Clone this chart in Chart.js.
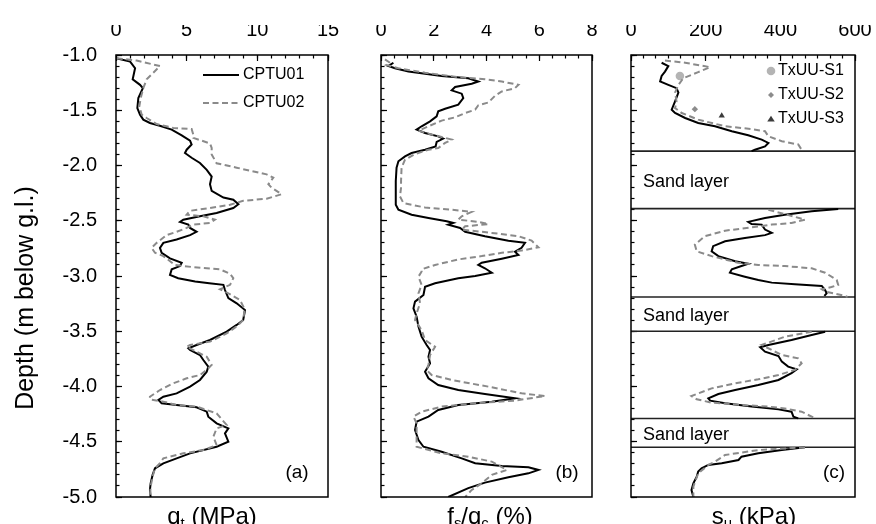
<!DOCTYPE html>
<html><head><meta charset="utf-8">
<script src="https://cdn.jsdelivr.net/npm/chart.js@4.4.0/dist/chart.umd.min.js"></script>
<style>
html,body{margin:0;padding:0;background:#fff;}
#wrap{position:relative;width:876px;height:524px;overflow:hidden;background:#fff;}
canvas{position:absolute;left:0;top:0;}
</style></head><body>
<div id="wrap">
<canvas id="ca" width="876" height="524"></canvas>
<canvas id="cb" width="876" height="524"></canvas>
<canvas id="cc" width="876" height="524"></canvas>
</div>
<script>
// ---------- DATA ----------
// Panel (a): corrected cone resistance qt (MPa) vs depth (m)
const qtDepth01 = [-1.03,-1.06,-1.12,-1.22,-1.27,-1.30,-1.39,-1.48,-1.54,-1.585,-1.615,-1.64,-1.675,-1.727,-1.775,-1.81,-1.857,-1.887,-1.93,-1.977,-2.04,-2.10,-2.17,-2.23,-2.29,-2.31,-2.35,-2.385,-2.43,-2.46,-2.49,-2.51,-2.535,-2.565,-2.60,-2.63,-2.67,-2.70,-2.745,-2.79,-2.84,-2.88,-2.91,-2.94,-2.99,-3.02,-3.05,-3.066,-3.08,-3.127,-3.20,-3.247,-3.308,-3.398,-3.443,-3.504,-3.579,-3.624,-3.654,-3.67,-3.715,-3.76,-3.82,-3.866,-3.941,-4.001,-4.062,-4.092,-4.122,-4.152,-4.167,-4.188,-4.228,-4.273,-4.333,-4.379,-4.424,-4.50,-4.545,-4.605,-4.65,-4.695,-4.74,-4.80,-4.876,-4.936,-5.0];
const qt01 = [0.0,1.0,1.35,1.18,1.7,1.9,1.58,1.51,1.7,1.93,2.4,3.1,3.94,4.65,5.24,5.35,5.0,4.88,5.35,5.94,6.42,6.77,6.65,6.77,7.6,8.3,8.66,8.3,7.12,5.94,4.76,4.53,5.12,5.24,5.7,5.24,4.29,3.35,3.11,3.23,3.82,4.65,4.53,3.94,3.82,4.4,5.6,6.6,7.6,7.71,7.95,8.54,9.13,9.0,8.54,7.83,6.65,5.7,5.12,5.24,5.94,6.18,6.53,6.42,5.94,5.24,4.29,3.35,3.0,3.23,4.29,5.7,6.42,6.53,7.12,7.95,7.71,7.95,7.12,5.24,4.29,3.35,2.76,2.59,2.45,2.4,2.45];
const qtDepth02 = [-1.03,-1.05,-1.10,-1.16,-1.22,-1.30,-1.39,-1.465,-1.54,-1.57,-1.625,-1.66,-1.67,-1.72,-1.75,-1.80,-1.84,-1.90,-1.98,-2.02,-2.08,-2.11,-2.17,-2.20,-2.26,-2.30,-2.32,-2.355,-2.385,-2.41,-2.445,-2.46,-2.49,-2.52,-2.535,-2.565,-2.60,-2.63,-2.70,-2.745,-2.79,-2.82,-2.90,-2.92,-2.94,-2.98,-3.02,-3.08,-3.12,-3.14,-3.217,-3.30,-3.398,-3.45,-3.52,-3.594,-3.624,-3.64,-3.685,-3.73,-3.805,-3.85,-3.896,-3.926,-3.971,-4.032,-4.092,-4.116,-4.137,-4.167,-4.182,-4.243,-4.348,-4.379,-4.454,-4.53,-4.575,-4.605,-4.65,-4.695,-4.74,-4.815,-4.906,-5.0];
const qt02 = [0.05,1.46,3.11,2.64,2.17,1.93,1.75,1.65,1.82,2.17,2.88,4.06,5.35,5.47,5.47,6.65,6.77,6.77,7.12,8.54,10.66,11.13,10.78,11.0,11.72,10.66,9.0,8.07,6.65,5.24,5.0,6.18,7.0,6.65,5.47,5.0,4.29,3.58,2.88,2.52,2.76,3.35,4.17,5.47,7.36,8.07,8.3,8.07,7.36,7.71,8.77,9.1,9.0,8.6,7.83,6.65,5.24,5.0,5.7,6.42,6.77,6.42,5.94,5.0,4.06,3.11,2.4,2.4,3.35,4.29,5.7,7.12,7.83,7.12,6.89,7.12,6.18,4.76,3.35,3.11,2.76,2.59,2.45,2.4];

// Panel (b): friction ratio fs/qc (%) vs depth (m)
const frDepth01 = [-1.07,-1.10,-1.12,-1.15,-1.17,-1.19,-1.21,-1.24,-1.26,-1.29,-1.32,-1.35,-1.39,-1.45,-1.486,-1.51,-1.555,-1.60,-1.645,-1.675,-1.706,-1.736,-1.757,-1.787,-1.827,-1.857,-1.887,-1.917,-1.962,-2.02,-2.14,-2.26,-2.355,-2.40,-2.445,-2.475,-2.505,-2.52,-2.535,-2.565,-2.60,-2.64,-2.68,-2.70,-2.745,-2.78,-2.81,-2.843,-2.88,-2.90,-2.93,-2.97,-3.00,-3.02,-3.066,-3.097,-3.172,-3.232,-3.293,-3.368,-3.458,-3.549,-3.624,-3.67,-3.73,-3.79,-3.866,-3.926,-3.986,-4.032,-4.068,-4.107,-4.137,-4.167,-4.213,-4.273,-4.318,-4.394,-4.484,-4.545,-4.59,-4.65,-4.695,-4.72,-4.731,-4.755,-4.786,-4.822,-4.87,-4.92,-5.0];
const fr01 = [0.47,0.28,0.53,1.04,1.67,2.3,3.31,3.69,3.44,2.81,2.68,3.06,3.12,2.93,2.43,2.17,2.11,1.86,1.54,1.35,1.67,2.17,2.36,2.11,2.07,1.67,1.16,0.91,0.66,0.59,0.56,0.56,0.56,0.66,1.16,1.8,2.49,2.74,2.55,3.0,3.19,3.94,4.83,5.46,5.33,5.08,5.21,4.58,3.82,3.69,3.94,4.2,3.57,2.93,2.05,1.67,1.61,1.29,1.23,1.35,1.42,1.54,1.73,1.86,1.8,1.86,1.67,1.8,2.17,2.93,3.94,5.08,4.2,2.93,2.17,1.8,1.35,1.29,1.42,1.61,2.3,3.06,3.57,4.58,5.59,5.97,5.59,4.83,3.94,3.31,2.55];
const frDepth02 = [-1.04,-1.07,-1.09,-1.12,-1.16,-1.20,-1.22,-1.24,-1.27,-1.30,-1.33,-1.37,-1.43,-1.455,-1.495,-1.525,-1.564,-1.594,-1.645,-1.685,-1.72,-1.75,-1.766,-1.796,-1.842,-1.857,-1.896,-1.947,-2.02,-2.14,-2.20,-2.28,-2.34,-2.38,-2.40,-2.42,-2.46,-2.49,-2.51,-2.53,-2.55,-2.58,-2.61,-2.64,-2.68,-2.74,-2.77,-2.79,-2.82,-2.85,-2.90,-2.94,-2.96,-3.006,-3.08,-3.157,-3.247,-3.338,-3.398,-3.489,-3.58,-3.64,-3.715,-3.805,-3.85,-3.896,-3.941,-4.007,-4.062,-4.086,-4.128,-4.152,-4.182,-4.228,-4.273,-4.333,-4.454,-4.545,-4.605,-4.635,-4.68,-4.755,-4.80,-4.876,-4.936,-5.0];
const fr02 = [0.15,0.34,0.2,0.66,1.67,2.93,3.94,4.58,5.21,5.08,4.58,4.32,4.07,3.69,3.57,3.19,2.81,2.3,1.8,1.42,1.92,2.43,2.68,2.43,2.17,1.8,1.29,0.91,0.78,0.76,0.76,0.72,0.85,1.67,2.68,3.44,3.06,2.93,3.69,4.07,3.19,3.06,4.2,5.21,5.71,5.97,5.33,4.58,3.82,2.93,2.05,1.54,1.54,1.42,1.54,1.42,1.48,1.35,1.29,1.54,1.67,2.05,1.86,1.8,1.73,1.92,2.68,4.2,5.33,6.22,5.08,3.57,2.3,1.54,1.23,1.35,1.35,1.35,2.3,3.31,4.2,4.77,4.2,3.82,3.44,3.19];

// Panel (c): undrained shear strength su (kPa); null = break at sand layers
const suDepth01 = [-1.07,-1.10,-1.15,-1.19,-1.24,-1.27,-1.30,-1.34,-1.42,-1.495,-1.525,-1.57,-1.615,-1.645,-1.69,-1.727,-1.766,-1.796,-1.827,-1.857,-1.87,null,
  -2.394,-2.415,-2.445,-2.475,-2.51,-2.53,-2.535,-2.58,-2.61,-2.63,-2.656,-2.686,-2.73,-2.777,-2.82,-2.867,-2.89,-2.91,-2.94,-2.97,-3.006,-3.036,-3.06,-3.075,-3.09,-3.127,-3.157,-3.18,null,
  -3.504,-3.534,-3.58,-3.624,-3.645,-3.685,-3.724,-3.775,-3.82,-3.845,-3.88,-3.941,-3.986,-4.032,-4.068,-4.107,-4.128,-4.152,-4.182,-4.207,-4.228,-4.273,-4.288,null,
  -4.55,-4.575,-4.605,-4.635,-4.665,-4.695,-4.71,-4.74,-4.77,-4.816,-4.876,-4.936,-5.0];
const su01 = [82,100,91,82,78,100,122,127,118,109,118,145,180,225,270,314,350,368,359,332,323,null,
  555,484,412,359,314,323,350,359,377,359,305,252,220,216,234,279,314,296,270,265,305,341,377,439,511,520,524,518,null,
  520,484,430,368,346,359,395,404,421,444,430,395,341,279,234,207,212,252,323,395,430,435,448,null,
  466,404,341,296,288,243,207,189,180,176,167,162,167];
const suDepth02 = [-1.05,-1.07,-1.11,-1.155,-1.21,-1.27,-1.34,-1.42,-1.48,-1.525,-1.585,-1.645,-1.67,-1.69,-1.736,-1.78,-1.81,-1.857,-1.87,null,
  -2.40,-2.44,-2.49,-2.52,-2.535,-2.56,-2.59,-2.64,-2.716,-2.777,-2.82,-2.88,-2.90,-2.91,-2.93,-2.97,-3.036,-3.08,-3.10,-3.12,-3.14,-3.18,-3.19,null,
  -3.504,-3.55,-3.624,-3.67,-3.715,-3.745,-3.79,-3.85,-3.896,-3.935,-3.971,-4.017,-4.086,-4.116,-4.146,-4.167,-4.182,-4.198,-4.228,-4.288,null,
  -4.55,-4.575,-4.62,-4.68,-4.71,-4.786,-4.906,-5.0];
const su02 = [91,145,212,180,140,127,118,122,118,136,180,252,323,359,368,404,448,457,460,null,
  368,412,466,430,377,323,252,198,171,176,216,287,341,412,484,520,551,555,537,511,520,573,580,null,
  484,412,350,377,404,448,457,439,395,341,279,216,162,176,216,296,368,412,457,493,null,
  466,341,252,225,207,180,167,167];

// Triaxial UU tests
const txuuLabels = ['TxUU-S1','TxUU-S2','TxUU-S3'];
const txuuDepth = [-1.19,-1.49,-1.55];
const txuuSu = [131,171,243];

// Sand layers (depth of top and bottom, m)
const sandTop = [-1.87,-3.19,-4.29];
const sandBottom = [-2.39,-3.50,-4.55];

// Axis ranges / ticks
const depthMin = -5, depthMax = -1, depthMajor = 0.5, depthMinor = 0.1;
const qtMax = 15, qtMajor = 5, qtMinor = 1;
const frMax = 8, frMajor = 2, frMinor = 0.5;
const suMax = 600, suMajor = 200, suMinor = 100/3;

// ---------- RENDERING ----------
const FF = '"Liberation Sans", Arial, Helvetica, sans-serif';
const CW = 876, CH = 524, TOP = 55, BOTTOM = 497;
const GRAY = '#8a8a8a';
const CLEAR = 'rgba(0,0,0,0)';

function pts(ds, vs){ return vs.map((v,i)=> (v===null||ds[i]===null) ? {x:null,y:null} : {x:v,y:ds[i]}); }

function tickAxis(pos, min, max, step, len, w){
  return {type:'linear', position:pos, min:min, max:max, weight:w,
    ticks:{stepSize:step, display:false, autoSkip:false, padding:0},
    grid:{drawOnChartArea:false, drawTicks:true, tickLength:len, tickColor:'#000', tickWidth:1.2},
    border:{display:false},
    afterFit:s=>{ if(pos==='top') s.height=0; else s.width=0; }};
}

function scalesFor(xmax, major, minor, showY){
  return {
    // label axes (invisible outward ticks give the label spacing)
    x:{type:'linear',position:'top',min:0,max:xmax,weight:3,
       ticks:{stepSize:major,autoSkip:false,maxRotation:0,padding:0,color:'#000',font:{family:FF,size:20}},
       grid:{drawOnChartArea:false,drawTicks:true,tickLength:13,tickColor:CLEAR},
       border:{display:false},
       afterFit:s=>{s.height=30;}},
    xM: tickAxis('top', 0, xmax, major, -6, 1),
    xm: tickAxis('top', 0, xmax, minor, -3.5, 0),
    y:{type:'linear',position:'left',min:depthMin,max:depthMax,weight:3,
       ticks:{stepSize:depthMajor,display:showY,autoSkip:false,padding:0,color:'#000',font:{family:FF,size:20},
              callback:v=>Number(v).toFixed(1)},
       grid:{drawOnChartArea:false,drawTicks:true,tickLength:19,tickColor:CLEAR},
       border:{display:false},
       afterFit:s=>{s.width=showY?60:0;}},
    yM: tickAxis('left', depthMin, depthMax, depthMajor, -6, 1),
    ym: tickAxis('left', depthMin, depthMax, depthMinor, -3.5, 0)
  };
}

function drawRich(ctx, parts, cx, baseline, size){
  const sub = size*0.62;
  let w = 0;
  parts.forEach(p=>{ ctx.font = (p.sub?sub:size)+'px '+FF; p.w = ctx.measureText(p.t).width; w += p.w; });
  let x = cx - w/2;
  ctx.textAlign='left'; ctx.textBaseline='alphabetic'; ctx.fillStyle='#000';
  parts.forEach(p=>{ ctx.font = (p.sub?sub:size)+'px '+FF; ctx.fillText(p.t, x, baseline + (p.sub? size*0.18:0)); x += p.w; });
}

function drawMarker(ctx, style, r, x, y, color){
  ctx.save(); ctx.fillStyle=color; ctx.strokeStyle=color; ctx.lineWidth=1;
  ctx.beginPath();
  if(style==='circle'){ ctx.arc(x,y,r,0,Math.PI*2); }
  else if(style==='rectRot'){ ctx.moveTo(x,y-r); ctx.lineTo(x+r,y); ctx.lineTo(x,y+r); ctx.lineTo(x-r,y); ctx.closePath(); }
  else { const h=r*1.5; ctx.moveTo(x,y-h*0.66); ctx.lineTo(x+r*1.1,y+h*0.5); ctx.lineTo(x-r*1.1,y+h*0.5); ctx.closePath(); }
  ctx.fill(); ctx.restore();
}

const decor = {
  id:'decor',
  afterDatasetsDraw(chart, args, o){
    const ctx = chart.ctx, a = chart.chartArea, ys = chart.scales.y;
    ctx.save();
    ctx.strokeStyle='#000'; ctx.lineWidth=1.5; ctx.setLineDash([]);
    ctx.strokeRect(a.left, a.top, a.right-a.left, a.bottom-a.top);
    drawRich(ctx, o.title, o.titleX, 524, 24);
    ctx.font='19px '+FF; ctx.fillStyle='#000'; ctx.textAlign='center'; ctx.textBaseline='middle';
    ctx.fillText(o.panel, o.panelX, 473);
    if(o.yTitle){
      ctx.save(); ctx.translate(33, 298); ctx.rotate(-Math.PI/2);
      ctx.font='25px '+FF; ctx.textAlign='center'; ctx.textBaseline='alphabetic';
      ctx.fillText(o.yTitle, 0, 0); ctx.restore();
    }
    if(o.lineLegend){
      o.lineLegend.forEach(it=>{
        const ds = chart.data.datasets[it.ds];
        ctx.beginPath(); ctx.strokeStyle=ds.borderColor; ctx.lineWidth=ds.borderWidth;
        ctx.setLineDash(ds.borderDash||[]); ctx.moveTo(203,it.y); ctx.lineTo(239,it.y); ctx.stroke(); ctx.setLineDash([]);
        ctx.font='16px '+FF; ctx.fillStyle='#000'; ctx.textAlign='left'; ctx.textBaseline='middle';
        ctx.fillText(ds.label, 243, it.y);
      });
    }
    if(o.sand){
      ctx.font='18px '+FF; ctx.fillStyle='#000'; ctx.textAlign='left'; ctx.textBaseline='middle';
      sandTop.forEach((t,i)=>{
        const y = ys.getPixelForValue((t+sandBottom[i])/2) + 2;
        ctx.fillText('Sand layer', a.left+12, y);
      });
    }
    if(o.pointLegend){
      o.pointLegend.forEach(it=>{
        const ds = chart.data.datasets[it.ds];
        drawMarker(ctx, ds.pointStyle, it.r, 771, it.y, ds.backgroundColor);
        ctx.font='16px '+FF; ctx.fillStyle='#000'; ctx.textAlign='left'; ctx.textBaseline='middle';
        ctx.fillText(ds.label, 778, it.y);
      });
    }
    ctx.restore();
  }
};

function baseOptions(left, right, scales, decorOpts){
  return {
    responsive:false, animation:false, devicePixelRatio:1, events:[],
    layout:{padding:{left:left, right:CW-right, top:TOP-30, bottom:CH-BOTTOM}},
    elements:{point:{radius:0}, line:{tension:0}},
    plugins:{legend:{display:false}, tooltip:{enabled:false}, decor:decorOpts},
    scales:scales
  };
}

function lineDs(label, data, color, dash, width){
  return {label:label, data:data, showLine:true, borderColor:color, backgroundColor:color, borderWidth:width||2,
          borderDash:dash||[], pointRadius:0, spanGaps:false, xAxisID:'x', yAxisID:'y'};
}

// Panel (a)
new Chart(document.getElementById('ca'), {
  type:'scatter',
  data:{datasets:[
    lineDs('CPTU02', pts(qtDepth02, qt02), GRAY, [6,3.5], 2),
    lineDs('CPTU01', pts(qtDepth01, qt01), '#000', [], 2)
  ]},
  options:baseOptions(56, 328, scalesFor(qtMax, qtMajor, qtMinor, true), {
    title:[{t:'q'},{t:'t',sub:true},{t:' (MPa)'}], titleX:212, panel:'(a)', panelX:297,
    yTitle:'Depth (m below g.l.)',
    lineLegend:[{ds:1,y:75},{ds:0,y:103}]
  }),
  plugins:[decor]
});

// Panel (b)
new Chart(document.getElementById('cb'), {
  type:'scatter',
  data:{datasets:[
    lineDs('CPTU02', pts(frDepth02, fr02), GRAY, [6,3.5], 2),
    lineDs('CPTU01', pts(frDepth01, fr01), '#000', [], 2)
  ]},
  options:baseOptions(381, 592, scalesFor(frMax, frMajor, frMinor, false), {
    title:[{t:'f'},{t:'s',sub:true},{t:'/q'},{t:'c',sub:true},{t:' (%)'}], titleX:490, panel:'(b)', panelX:567
  }),
  plugins:[decor]
});

// Panel (c)
const sandDs = [];
sandTop.concat(sandBottom).forEach(d=>{
  sandDs.push({label:'', data:[{x:0,y:d},{x:suMax,y:d}], showLine:true, borderColor:'#222', borderWidth:1.6,
    pointRadius:0, xAxisID:'x', yAxisID:'y'});
});
const txStyles = ['circle','rectRot','triangle'];
const txColors = ['#b4b4b4','#8c8c8c','#3c3c3c'];
const txRadius = [4.3,3.2,3.6];
const txDs = txuuLabels.map((lab,i)=>({label:lab, data:[{x:txuuSu[i], y:txuuDepth[i]}], showLine:false,
  pointStyle:txStyles[i], pointRadius:txRadius[i], backgroundColor:txColors[i], borderColor:txColors[i], borderWidth:0,
  xAxisID:'x', yAxisID:'y'}));
new Chart(document.getElementById('cc'), {
  type:'scatter',
  data:{datasets:[
    lineDs('CPTU02', pts(suDepth02, su02), GRAY, [6,3.5], 2),
    lineDs('CPTU01', pts(suDepth01, su01), '#000', [], 2)
  ].concat(sandDs).concat(txDs)},
  options:baseOptions(631, 855, scalesFor(suMax, suMajor, suMinor, false), {
    title:[{t:'s'},{t:'u',sub:true},{t:' (kPa)'}], titleX:754, panel:'(c)', panelX:834,
    sand:true,
    pointLegend:[{ds:8,y:71,r:4.3},{ds:9,y:95,r:3.0},{ds:10,y:119,r:3.4}]
  }),
  plugins:[decor]
});
</script>
</body></html>
